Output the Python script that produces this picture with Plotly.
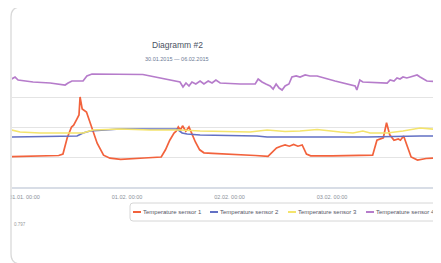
import plotly.graph_objects as go

# ---------------- data ----------------
series_names = ["Temperature sensor 1", "Temperature sensor 2", "Temperature sensor 3", "Temperature sensor 4"]
series_colors = ["#f2623c", "#6270c4", "#f4e46c", "#b67ccb"]

t1 = ["2015-01-30 21:00", "2015-01-31 00:00", "2015-01-31 08:00", "2015-01-31 09:00", "2015-01-31 10:00",
      "2015-01-31 11:00", "2015-01-31 11:30", "2015-01-31 12:15", "2015-01-31 12:45", "2015-01-31 13:00",
      "2015-01-31 13:30", "2015-01-31 14:30", "2015-01-31 15:45", "2015-01-31 17:00", "2015-01-31 18:30",
      "2015-01-31 20:00", "2015-01-31 22:30", "2015-02-01 01:00", "2015-02-01 04:00", "2015-02-01 08:00",
      "2015-02-01 09:00", "2015-02-01 10:00", "2015-02-01 11:00", "2015-02-01 11:30", "2015-02-01 12:00",
      "2015-02-01 12:30", "2015-02-01 13:00", "2015-02-01 13:45", "2015-02-01 14:30", "2015-02-01 15:00",
      "2015-02-01 16:00", "2015-02-01 17:00", "2015-02-01 18:00", "2015-02-01 20:00", "2015-02-02 00:00",
      "2015-02-02 06:00", "2015-02-02 09:00", "2015-02-02 10:00", "2015-02-02 11:00", "2015-02-02 12:00",
      "2015-02-02 13:00", "2015-02-02 14:00", "2015-02-02 15:00", "2015-02-02 16:00", "2015-02-02 17:00",
      "2015-02-02 18:00", "2015-02-02 19:00", "2015-02-03 00:00", "2015-02-03 08:00", "2015-02-03 09:30",
      "2015-02-03 10:30", "2015-02-03 11:30", "2015-02-03 12:00", "2015-02-03 12:45", "2015-02-03 13:30",
      "2015-02-03 14:30", "2015-02-03 15:30", "2015-02-03 16:00", "2015-02-03 16:45", "2015-02-03 17:45",
      "2015-02-03 18:30", "2015-02-03 20:00", "2015-02-03 22:00", "2015-02-04 00:00", "2015-02-04 02:00"]
v1 = [15.05, 15.1, 15.25, 15.5, 18.2, 20.0, 20.3, 21.3, 22.0, 25.0,
      23.0, 22.5, 20.0, 17.3, 15.3, 14.8, 14.6, 14.67, 14.83, 15.0,
      16.2, 17.8, 19.0, 19.3, 20.0, 19.5, 20.2, 19.3, 20.0, 19.2,
      17.5, 16.2, 15.7, 15.6, 15.5, 15.25, 15.1, 15.8, 16.5, 16.8,
      17.0, 16.8, 17.1, 16.8, 17.0, 15.5, 15.2, 15.2, 15.2, 15.3,
      17.8, 18.0, 18.2, 20.7, 18.7, 17.8, 18.0, 17.8, 18.5, 16.5,
      15.0, 14.5, 14.75, 14.83, 14.83]

t2 = ["2015-01-30 21:00", "2015-01-31 12:18", "2015-01-31 13:42", "2015-01-31 15:20", "2015-01-31 22:24",
      "2015-02-01 11:42", "2015-02-01 12:54", "2015-02-01 14:03", "2015-02-01 17:06", "2015-02-02 06:24",
      "2015-02-02 08:48", "2015-02-03 08:12", "2015-02-03 20:36", "2015-02-04 02:00"]
v2 = [18.33, 18.5, 19.0, 19.33, 19.67, 19.67, 19.0, 18.83, 18.67, 18.5,
      18.33, 18.33, 18.5, 18.5]

t3 = ["2015-01-30 21:00", "2015-01-30 22:57", "2015-01-31 03:36", "2015-01-31 09:57", "2015-01-31 13:42",
      "2015-01-31 16:00", "2015-01-31 22:24", "2015-02-01 05:24", "2015-02-01 12:24", "2015-02-01 17:06",
      "2015-02-02 00:06", "2015-02-02 04:48", "2015-02-02 08:48", "2015-02-02 13:00", "2015-02-02 16:30",
      "2015-02-02 20:30", "2015-02-03 01:54", "2015-02-03 04:54", "2015-02-03 07:12", "2015-02-03 08:54",
      "2015-02-03 12:54", "2015-02-03 16:36", "2015-02-03 20:36", "2015-02-04 02:00"]
v3 = [19.5, 19.17, 19.0, 19.0, 19.0, 19.5, 19.67, 19.5, 19.5, 19.33,
      19.25, 19.17, 19.5, 19.25, 19.33, 19.58, 19.17, 19.0, 19.33, 19.0,
      19.0, 19.33, 19.83, 19.5]

t4 = ["2015-01-30 21:00", "2015-01-30 21:47", "2015-01-30 22:30", "2015-01-31 02:00", "2015-01-31 06:00",
      "2015-01-31 07:36", "2015-01-31 09:30", "2015-01-31 10:12", "2015-01-31 11:06", "2015-01-31 13:42",
      "2015-01-31 14:36", "2015-01-31 15:48", "2015-01-31 22:24", "2015-02-01 03:42", "2015-02-01 12:24",
      "2015-02-01 13:06", "2015-02-01 13:48", "2015-02-01 14:30", "2015-02-01 15:12", "2015-02-01 16:06",
      "2015-02-01 17:06", "2015-02-01 18:00", "2015-02-01 19:00", "2015-02-01 19:54", "2015-02-01 20:48",
      "2015-02-01 21:48", "2015-02-02 02:30", "2015-02-02 06:00", "2015-02-02 06:42", "2015-02-02 07:36",
      "2015-02-02 08:30", "2015-02-02 09:30", "2015-02-02 10:12", "2015-02-02 10:54", "2015-02-02 11:36",
      "2015-02-02 12:18", "2015-02-02 13:00", "2015-02-02 13:54", "2015-02-02 14:36", "2015-02-02 15:36",
      "2015-02-02 16:30", "2015-02-02 17:42", "2015-02-02 18:48", "2015-02-02 20:30", "2015-02-03 00:42",
      "2015-02-03 05:24", "2015-02-03 05:48", "2015-02-03 06:30", "2015-02-03 07:12", "2015-02-03 12:54",
      "2015-02-03 13:36", "2015-02-03 14:30", "2015-02-03 15:12", "2015-02-03 15:54", "2015-02-03 16:36",
      "2015-02-03 17:30", "2015-02-03 18:18", "2015-02-03 19:12", "2015-02-03 19:54", "2015-02-03 20:36",
      "2015-02-03 22:12", "2015-02-04 02:00"]
v4 = [28.0, 28.33, 27.83, 27.5, 27.33, 27.17, 27.0, 27.33, 27.67, 27.67,
      28.5, 28.83, 28.83, 28.75, 27.5, 26.67, 27.33, 26.83, 27.5, 27.17,
      27.67, 27.17, 27.67, 27.33, 27.83, 27.33, 27.17, 27.17, 28.0, 27.5,
      27.17, 26.83, 26.33, 27.17, 26.5, 26.17, 26.83, 27.17, 28.33, 28.5,
      28.33, 28.67, 28.5, 28.5, 27.67, 26.83, 26.17, 27.83, 27.5, 27.33,
      27.83, 27.67, 28.17, 28.0, 28.33, 28.17, 28.33, 28.5, 28.67, 28.33,
      27.67, 27.5]

x_range = ["2015-01-30 21:04", "2015-02-04 01:30"]
y_range = [10, 30]
y_step = 5
title_text = "Diagramm #2"
subtitle_text = "30.01.2015 — 06.02.2015"
footer_text = "0.797"

# ---------------- figure ----------------
# The page body adds an 8px offset; the figure is sized to fit the remaining window,
# and page coordinates below are converted to figure coordinates.
OFF = 8
W, H = 441 - OFF, 263 - OFF
ML, MR, MT = 12 - OFF, 0, 67 - OFF
MB = H - (187 - OFF)
PW, PH = W - ML - MR, H - MT - MB

fig = go.Figure()
for t, v, name, col in zip([t1, t2, t3, t4], [v1, v2, v3, v4], series_names, series_colors):
    fig.add_trace(go.Scatter(x=t, y=v, mode="lines", name=name, showlegend=False,
                             line=dict(color=col, width=1.7), hoverinfo="skip"))

FONT = "Liberation Sans, Arial, sans-serif"

def px_x(px):
    return (px - OFF - ML) / PW

def px_y(py):
    return (H - MB - (py - OFF)) / PH

BOT = 187  # page y of plot bottom; pixel-mode paths are relative to the plot's bottom-left corner

shapes = []
# white cover of the area left of the card
shapes.append(dict(type="rect", xref="paper", yref="paper", x0=px_x(-5), x1=px_x(10.5),
                   y0=px_y(H + 20), y1=px_y(-5), fillcolor="white", line=dict(width=0), layer="above"))
# card border with rounded left corners
cl, ct, cb, r = -1, BOT - 7, BOT - 264, 10
card_path = (f"M 460,{ct} L {cl + r},{ct} Q {cl},{ct} {cl},{ct - r} "
             f"L {cl},{cb + r} Q {cl},{cb} {cl + r},{cb} L 460,{cb}")
shapes.append(dict(type="path", xref="paper", yref="paper", xsizemode="pixel", ysizemode="pixel",
                   xanchor=0, yanchor=0, path=card_path, line=dict(color="#d9d9d9", width=1.3),
                   layer="above"))
# legend box
lx0, lx1, ly0, ly1, lr = 130 - 12, 440 - 12, BOT - 203, BOT - 221, 3
leg_path = (f"M {lx0 + lr},{ly0} L {lx1 - lr},{ly0} Q {lx1},{ly0} {lx1},{ly0 - lr} "
            f"L {lx1},{ly1 + lr} Q {lx1},{ly1} {lx1 - lr},{ly1} L {lx0 + lr},{ly1} "
            f"Q {lx0},{ly1} {lx0},{ly1 + lr} L {lx0},{ly0 - lr} Q {lx0},{ly0} {lx0 + lr},{ly0} Z")
shapes.append(dict(type="path", xref="paper", yref="paper", xsizemode="pixel", ysizemode="pixel",
                   xanchor=0, yanchor=0, path=leg_path, line=dict(color="#d6d6d6", width=1),
                   fillcolor="white", layer="above"))

annotations = [
    dict(text=title_text, x=px_x(177), y=px_y(45), xref="paper", yref="paper", showarrow=False,
         font=dict(family=FONT, size=8.5, color="#4a5263"), xanchor="center", yanchor="middle"),
    dict(text=subtitle_text, x=px_x(177), y=px_y(59), xref="paper", yref="paper", showarrow=False,
         font=dict(family=FONT, size=5.5, color="#6d7a96"), xanchor="center", yanchor="middle"),
    dict(text=footer_text, x=px_x(12), y=px_y(224), xref="paper", yref="paper", showarrow=False,
         font=dict(family=FONT, size=4.5, color="#9a9a9a"), xanchor="left", yanchor="middle"),
]

leg_starts = [133, 210, 288, 366]
leg_y = 212
for sx, name, col in zip(leg_starts, series_names, series_colors):
    shapes.append(dict(type="line", xref="paper", yref="paper", x0=px_x(sx), x1=px_x(sx + 8),
                       y0=px_y(leg_y), y1=px_y(leg_y), line=dict(color=col, width=2), layer="above"))
    annotations.append(dict(text=name, x=px_x(sx + 9), y=px_y(leg_y), xref="paper", yref="paper",
                            showarrow=False, xanchor="left", yanchor="middle", borderpad=0,
                            font=dict(family=FONT, size=6.0, color="#556")))

fig.update_layout(
    width=W, height=H,
    margin=dict(l=ML, r=MR, t=MT, b=MB, pad=0),
    paper_bgcolor="white", plot_bgcolor="white",
    font=dict(family=FONT),
    shapes=shapes, annotations=annotations,
    showlegend=False,
    xaxis=dict(type="date", range=x_range, tick0="2015-01-31", dtick=86400000,
               tickformat="%d.%m. %H:%M", showgrid=False, showline=True, linecolor="#d8dde6",
               linewidth=1.5, ticks="", tickfont=dict(size=5.5, color="#8a8f99"), zeroline=False,
               ticklabelstandoff=4),
    yaxis=dict(range=y_range, dtick=y_step, showticklabels=False, showgrid=True,
               gridcolor="#e4e4e4", gridwidth=1, zeroline=False, showline=False, ticks=""),
)

fig.write_html("out.html")
